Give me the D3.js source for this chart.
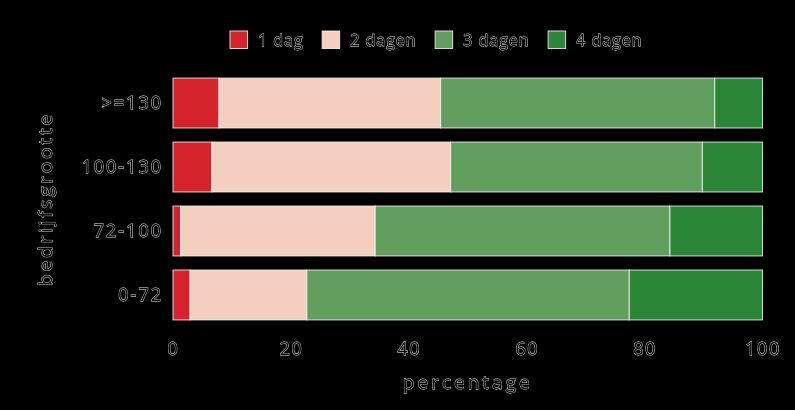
<!DOCTYPE html>
<html>
<head>
<meta charset="utf-8">
<script src="https://cdn.jsdelivr.net/npm/d3@7"></script>
<style>
  html, body { margin: 0; padding: 0; background: #000; }
  svg text {
    font-family: "Open Sans", sans-serif;
    fill: #000;
    stroke: #e8e8e8;
    stroke-width: 0.8px;
    paint-order: stroke;
    filter: url(#gray);
  }
</style>
</head>
<body>
<svg id="chart" width="795" height="410"></svg>
<script>
// categories (top to bottom) and the share per number of days
const groups = ['>=130', '100-130', '72-100', '0-72'];
const series = ['1 dag', '2 dagen', '3 dagen', '4 dagen'];
const dag1   = [7.8, 6.6, 1.3, 2.9];
const dagen2 = [37.6, 40.5, 33.0, 19.8];
const dagen3 = [46.5, 42.7, 50.0, 54.7];
const dagen4 = [8.1, 10.2, 15.7, 22.6];
const xTicks = [0, 20, 40, 60, 80, 100];
const colors = ['#d5232b', '#f4cfc0', '#629e5e', '#2c8638'];

const margin = { top: 64, right: 33, bottom: 76, left: 173 };
const width = 795, height = 410;

// build rows for the stack
const rows = groups.map((g, i) => ({
    group: g,
    '1 dag': dag1[i],
    '2 dagen': dagen2[i],
    '3 dagen': dagen3[i],
    '4 dagen': dagen4[i]
}));

const svg = d3.select('#chart');

// grey filter so the thin text outlines have no colour fringes
svg.append('defs').append('filter')
    .attr('id', 'gray')
    .append('feColorMatrix')
    .attr('type', 'saturate')
    .attr('values', 0);

const x = d3.scaleLinear()
    .domain([0, 100])
    .range([margin.left, width - margin.right + 0.5]);
const y = d3.scaleBand()
    .domain(groups)
    .range([margin.top, height - margin.bottom])
    .paddingInner(0.22)
    .paddingOuter(0.22);
const color = d3.scaleOrdinal().domain(series).range(colors);

const stacked = d3.stack().keys(series)(rows);

// bars
svg.append('g')
    .selectAll('g')
    .data(stacked)
    .join('g')
    .attr('fill', d => color(d.key))
    .selectAll('rect')
    .data(d => d)
    .join('rect')
    .attr('x', d => x(d[0]))
    .attr('y', d => y(d.data.group))
    .attr('width', d => x(d[1]) - x(d[0]))
    .attr('height', y.bandwidth())
    .attr('stroke', 'rgba(255,255,255,0.8)')
    .attr('stroke-width', 1);

// axes, no lines or tick marks
const xAxis = d3.axisBottom(x).tickValues(xTicks).tickSize(0).tickPadding(8);
svg.append('g')
    .attr('transform', `translate(0,${height - margin.bottom})`)
    .call(xAxis)
    .call(g => g.select('.domain').remove())
    .selectAll('text')
    .attr('font-size', 18)
    .attr('letter-spacing', '1.5px')
    .attr('fill', null);

const yAxis = d3.axisLeft(y).tickSize(0).tickPadding(10);
svg.append('g')
    .attr('transform', `translate(${margin.left},0)`)
    .call(yAxis)
    .call(g => g.select('.domain').remove())
    .selectAll('text')
    .attr('font-size', 18)
    .attr('letter-spacing', '2px')
    .attr('fill', null);

// axis titles
svg.append('text')
    .attr('x', (x.range()[0] + x.range()[1]) / 2)
    .attr('y', 389)
    .attr('text-anchor', 'middle')
    .attr('font-size', 19)
    .attr('letter-spacing', '3px')
    .text('percentage');

svg.append('text')
    .attr('transform', `translate(52,${(y.range()[0] + y.range()[1]) / 2}) rotate(-90)`)
    .attr('text-anchor', 'middle')
    .attr('font-size', 19)
    .attr('letter-spacing', '2.8px')
    .text('bedrijfsgrootte');

// legend
const legend = svg.append('g').attr('transform', 'translate(230,31)');
let lx = 0;
series.forEach((s, i) => {
    const item = legend.append('g').attr('transform', `translate(${lx},0)`);
    item.append('rect')
        .attr('width', 17.5)
        .attr('height', 17.5)
        .attr('fill', color(s))
        .attr('stroke', 'rgba(255,255,255,0.8)')
        .attr('stroke-width', 1);
    const t = item.append('text')
        .attr('x', 28)
        .attr('y', 14.5)
        .attr('font-size', 16)
        .attr('letter-spacing', '1px')
        .text(s);
    lx += 28 + t.node().getComputedTextLength() + 18.5;
});
</script>
</body>
</html>
